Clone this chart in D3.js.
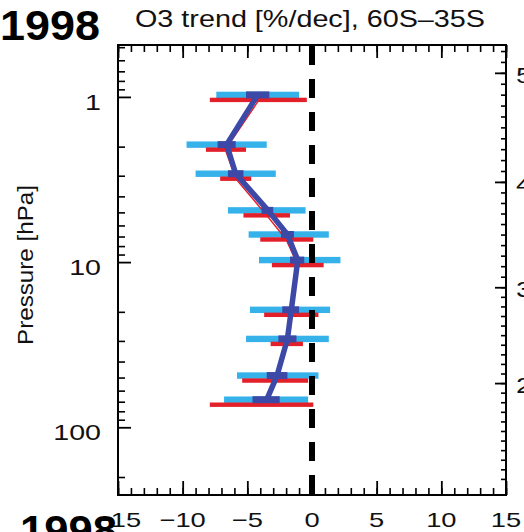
<!DOCTYPE html>
<html>
<head>
<meta charset="utf-8">
<script src="https://cdn.jsdelivr.net/npm/d3@7"></script>
<style>
  html, body { margin: 0; padding: 0; background: #fff; }
  svg { display: block; font-family: "Liberation Sans", Arial, Helvetica, sans-serif; }
</style>
</head>
<body>
<svg id="chart" width="524" height="532"></svg>
<script>
// ---- data ----
const pressure = [1, 2, 3, 5, 7, 10, 20, 30, 50, 70];          // hPa
const trend    = [-4.2, -6.6, -5.9, -3.4, -1.9, -1.1, -1.6, -1.9, -2.7, -3.5]; // %/dec
const blueLo   = [-7.4, -9.7, -9.0, -6.5, -4.9, -4.1, -4.8, -5.1, -5.8, -6.8];
const blueHi   = [-1.0, -3.5, -2.8, -0.5, 1.3, 2.2, 1.4, 1.3, 0.5, -0.3];
const darkLo   = [-5.1, -7.3, -6.5, -3.9, -2.4, -1.7, -2.3, -2.6, -3.5, -4.6];
const darkHi   = [-3.3, -5.9, -5.3, -3.0, -1.4, -0.6, -1.0, -1.2, -1.9, -2.5];
const redTrend = [-4.1, -6.7, -5.9, -3.5, -2.0, -1.1, -1.6, -1.9, -2.8, -3.9];
const redLo    = [-7.9, -8.2, -7.1, -5.3, -4.0, -3.1, -3.7, -3.2, -5.4, -7.9];
const redHi    = [-0.4, -5.1, -4.7, -1.7, 0.1, 0.9, 0.5, -0.7, -0.3, 0.1];

const xMajor = [-15, -10, -5, 0, 5, 10, 15];
const xMinor = d3.range(-15, 16, 1);
const pMajor = [1, 10, 100];
const pMinor = [0.5, 0.6, 0.7, 0.8, 0.9, 2, 3, 4, 5, 6, 7, 8, 9, 20, 30, 40, 50, 60, 70, 80, 90, 200];
const altKm  = [20, 30, 40, 50];          // right axis (km) major ticks
const altP   = [54.0, 14.2, 3.27, 0.715]; // pressure at which each km tick sits
const altMinor = d3.range(10, 55, 1);

const titleText = "O3 trend [%/dec], 60S\u201335S";
const yLabel = "Pressure [hPa]";
const panelLabel = "1998";

// ---- layout ----
const L = 118, R = 506, T = 45, B = 495;
const svg = d3.select("#chart");

const x = d3.scaleLinear().domain([-15, 15]).range([L, R]);
const y = d3.scaleLog().domain([0.485, 257]).range([T, B]);
const alt = d3.scaleLinear().domain(altKm).range(altP.map(p => y(p)));

const BLUE_OFF = -2, RED_OFF = 3;
const cLight = "#35b2ea", cDark = "#3d49a6", cRed = "#e3202a";

const idx = d3.range(pressure.length);

// light blue bars
svg.append("g").selectAll("rect").data(idx).join("rect")
  .attr("x", i => x(blueLo[i]))
  .attr("width", i => x(blueHi[i]) - x(blueLo[i]))
  .attr("y", i => y(pressure[i]) + BLUE_OFF - 3.2)
  .attr("height", 6.4)
  .attr("fill", cLight);

// red bars
svg.append("g").selectAll("rect").data(idx).join("rect")
  .attr("x", i => x(redLo[i]))
  .attr("width", i => x(redHi[i]) - x(redLo[i]))
  .attr("y", i => y(pressure[i]) + RED_OFF - 2.2)
  .attr("height", 4.4)
  .attr("fill", cRed);

// red trend line (mostly hidden)
svg.append("path")
  .datum(idx)
  .attr("fill", "none")
  .attr("stroke", cRed)
  .attr("stroke-width", 1.5)
  .attr("d", d3.line().x(i => x(redTrend[i])).y(i => y(pressure[i]) + RED_OFF));

// dark boxes
svg.append("g").selectAll("rect").data(idx).join("rect")
  .attr("x", i => x(darkLo[i]))
  .attr("width", i => x(darkHi[i]) - x(darkLo[i]))
  .attr("y", i => y(pressure[i]) + BLUE_OFF - 3.5)
  .attr("height", 7)
  .attr("fill", cDark);

// zero dashed line
svg.append("line")
  .attr("x1", x(0)).attr("x2", x(0))
  .attr("y1", T + 1).attr("y2", B)
  .attr("stroke", "#000")
  .attr("stroke-width", 6)
  .attr("stroke-dasharray", "19,14");

// trend line
svg.append("path")
  .datum(idx)
  .attr("fill", "none")
  .attr("stroke", cDark)
  .attr("stroke-width", 5.5)
  .attr("stroke-linejoin", "round")
  .attr("d", d3.line().x(i => x(trend[i])).y(i => y(pressure[i]) + BLUE_OFF));

// ---- axes (ticks) ----
function tickAxis(axis, transform, sw) {
  const g = svg.append("g").attr("transform", transform).call(axis);
  g.select(".domain").remove();
  g.selectAll("text").remove();
  g.selectAll("line").attr("stroke", "#000").attr("stroke-width", sw);
  return g;
}
tickAxis(d3.axisTop(x).tickValues(xMinor).tickSize(-7).tickFormat(""), `translate(0,${T})`, 1.6);
tickAxis(d3.axisTop(x).tickValues(xMajor).tickSize(-13).tickFormat(""), `translate(0,${T})`, 1.8);
tickAxis(d3.axisBottom(x).tickValues(xMinor).tickSize(-7).tickFormat(""), `translate(0,${B})`, 1.6);
tickAxis(d3.axisBottom(x).tickValues(xMajor).tickSize(-14).tickFormat(""), `translate(0,${B})`, 1.8);
tickAxis(d3.axisLeft(y).tickValues(pMinor).tickSize(-7).tickFormat(""), `translate(${L},0)`, 1.6);
tickAxis(d3.axisLeft(y).tickValues(pMajor).tickSize(-13).tickFormat(""), `translate(${L},0)`, 1.8);
const altMinorIn = altMinor.filter(v => alt(v) > T + 2 && alt(v) < B - 2);
tickAxis(d3.axisRight(alt).tickValues(altMinorIn).tickSize(-5).tickFormat(""), `translate(${R},0)`, 1.6);
tickAxis(d3.axisRight(alt).tickValues(altKm).tickSize(-11).tickFormat(""), `translate(${R},0)`, 1.8);

// frame
svg.append("rect")
  .attr("x", L).attr("y", T).attr("width", R - L).attr("height", B - T)
  .attr("fill", "none").attr("stroke", "#000").attr("stroke-width", 2);

// ---- text helpers ----
function stretchText(sel, factor, anchor) {
  sel.each(function () {
    const t = d3.select(this);
    const w = this.getComputedTextLength();
    const x0 = +t.attr("x");
    const nw = w * factor;
    t.attr("textLength", nw).attr("lengthAdjust", "spacingAndGlyphs")
     .attr("text-anchor", "start");
    if (anchor === "end") t.attr("x", x0 - nw);
    else if (anchor === "middle") t.attr("x", x0 - nw / 2);
  });
}

// bottom tick labels
const bl = svg.append("g").selectAll("text").data(xMajor).join("text")
  .attr("x", d => x(d)).attr("y", 527)
  .attr("font-size", 21).attr("fill", "#111")
  .text(d => d < 0 ? "\u2212" + Math.abs(d) : String(d));
stretchText(bl, 1.3, "middle");

// left tick labels
const ll = svg.append("g").selectAll("text").data(pMajor).join("text")
  .attr("x", 101).attr("y", d => y(d) + 13)
  .attr("font-size", 22).attr("fill", "#111")
  .text(d => String(d));
stretchText(ll, 1.3, "end");

// right (altitude) labels, clipped by the page edge
const rl = svg.append("g").selectAll("text").data(altKm).join("text")
  .attr("x", 516).attr("y", d => alt(d) + 10)
  .attr("font-size", 22).attr("fill", "#111")
  .text(d => String(d));
stretchText(rl, 1.3, "start");

// y label
const yl = svg.append("text")
  .attr("transform", "translate(33,265) rotate(-90)")
  .attr("x", 0).attr("y", 0)
  .attr("font-size", 22).attr("fill", "#111")
  .text(yLabel);
stretchText(yl, 160 / yl.node().getComputedTextLength(), "middle");

// title
const tt = svg.append("text")
  .attr("x", 135).attr("y", 27)
  .attr("font-size", 24).attr("fill", "#111")
  .text(titleText);
stretchText(tt, 350 / tt.node().getComputedTextLength(), "start");

// panel labels
const p1 = svg.append("text")
  .attr("x", 0).attr("y", 40)
  .attr("font-size", 42).attr("font-weight", "bold").attr("fill", "#000")
  .text(panelLabel);
stretchText(p1, 100 / p1.node().getComputedTextLength(), "start");

const p2 = svg.append("text")
  .attr("x", 20).attr("y", 545)
  .attr("font-size", 42).attr("font-weight", "bold").attr("fill", "#000")
  .text(panelLabel);
stretchText(p2, 97 / p2.node().getComputedTextLength(), "start");
</script>
</body>
</html>
